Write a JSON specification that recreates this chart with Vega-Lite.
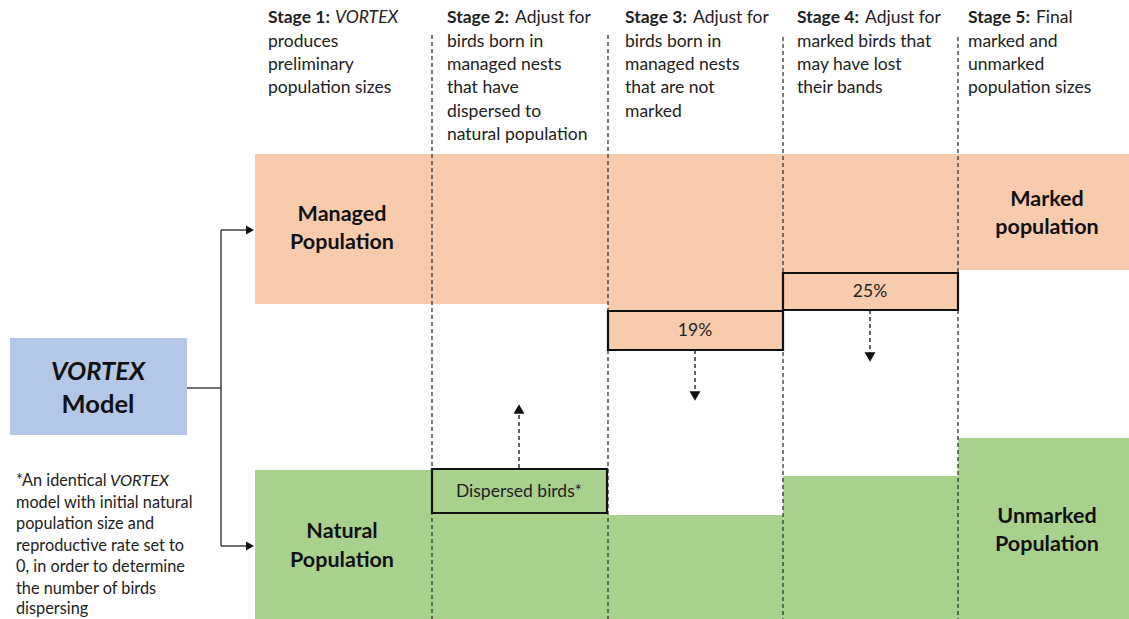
{
  "$schema": "https://vega.github.io/schema/vega-lite/v6.json",
  "width": 1129,
  "height": 619,
  "padding": 0,
  "autosize": "none",
  "background": "white",
  "config": {"view": {"stroke": null}, "text": {"font": "Lato", "color": "#222222"}},
  "datasets": {
    "bands": [
      {"x": 255, "x2": 608, "y": 154, "y2": 304, "pop": "managed"},
      {"x": 608, "x2": 783, "y": 154, "y2": 311, "pop": "managed"},
      {"x": 783, "x2": 958, "y": 154, "y2": 273, "pop": "managed"},
      {"x": 958, "x2": 1129, "y": 154, "y2": 270, "pop": "managed"},
      {"x": 255, "x2": 432, "y": 470, "y2": 619, "pop": "natural"},
      {"x": 432, "x2": 608, "y": 513, "y2": 619, "pop": "natural"},
      {"x": 608, "x2": 783, "y": 515, "y2": 619, "pop": "natural"},
      {"x": 783, "x2": 958, "y": 476, "y2": 619, "pop": "natural"},
      {"x": 958, "x2": 1129, "y": 438, "y2": 619, "pop": "natural"},
      {"x": 10, "x2": 187, "y": 338, "y2": 435, "pop": "vortex"}
    ],
    "boxes": [
      {"x": 432, "x2": 607, "y": 469, "y2": 513, "pop": "natural"},
      {"x": 608, "x2": 783, "y": 311, "y2": 350, "pop": "managed"},
      {"x": 783, "x2": 958, "y": 273, "y2": 310, "pop": "managed"}
    ],
    "stageLines": [
      {"x": 432, "y": 35, "y2": 619},
      {"x": 608, "y": 35, "y2": 619},
      {"x": 783, "y": 37, "y2": 619},
      {"x": 958, "y": 37, "y2": 619}
    ],
    "connectors": [
      {"x": 187, "x2": 221, "y": 388, "y2": 388},
      {"x": 221, "x2": 221, "y": 230, "y2": 546},
      {"x": 221, "x2": 248, "y": 230, "y2": 230},
      {"x": 221, "x2": 248, "y": 546, "y2": 546}
    ],
    "shafts": [
      {"x": 519, "y": 468, "y2": 414},
      {"x": 695, "y": 350, "y2": 392},
      {"x": 870, "y": 310, "y2": 353}
    ],
    "heads": [
      {"x": 519, "y": 409, "dir": "up", "kind": "flow"},
      {"x": 695, "y": 396, "dir": "down", "kind": "flow"},
      {"x": 870, "y": 357, "dir": "down", "kind": "flow"},
      {"x": 250, "y": 230, "dir": "right", "kind": "link"},
      {"x": 250, "y": 546, "dir": "right", "kind": "link"}
    ],
    "headBold": [
      {"x": 268, "y": 18, "t": "Stage 1:"},
      {"x": 447, "y": 18, "t": "Stage 2:"},
      {"x": 625, "y": 18, "t": "Stage 3:"},
      {"x": 797, "y": 18, "t": "Stage 4:"},
      {"x": 968, "y": 18, "t": "Stage 5:"}
    ],
    "headItalic": [
      {"x": 335, "y": 18, "t": "VORTEX"}
    ],
    "headReg": [
      {"x": 268, "y": 42, "t": "produces"},
      {"x": 268, "y": 65, "t": "preliminary"},
      {"x": 268, "y": 88, "t": "population sizes"},
      {"x": 515, "y": 18, "t": "Adjust for"},
      {"x": 447, "y": 42, "t": "birds born in"},
      {"x": 447, "y": 65, "t": "managed nests"},
      {"x": 447, "y": 88, "t": "that have"},
      {"x": 447, "y": 112, "t": "dispersed to"},
      {"x": 447, "y": 135, "t": "natural population"},
      {"x": 693, "y": 18, "t": "Adjust for"},
      {"x": 625, "y": 42, "t": "birds born in"},
      {"x": 625, "y": 65, "t": "managed nests"},
      {"x": 625, "y": 88, "t": "that are not"},
      {"x": 625, "y": 112, "t": "marked"},
      {"x": 865, "y": 18, "t": "Adjust for"},
      {"x": 797, "y": 42, "t": "marked birds that"},
      {"x": 797, "y": 65, "t": "may have lost"},
      {"x": 797, "y": 88, "t": "their bands"},
      {"x": 1036, "y": 18, "t": "Final"},
      {"x": 968, "y": 42, "t": "marked and"},
      {"x": 968, "y": 65, "t": "unmarked"},
      {"x": 968, "y": 88, "t": "population sizes"}
    ],
    "footReg": [
      {"x": 16, "y": 481, "t": "*An identical"},
      {"x": 16, "y": 503, "t": "model with initial natural"},
      {"x": 16, "y": 524, "t": "population size and"},
      {"x": 16, "y": 546, "t": "reproductive rate set to"},
      {"x": 16, "y": 567, "t": "0, in order to determine"},
      {"x": 16, "y": 589, "t": "the number of birds"},
      {"x": 16, "y": 609, "t": "dispersing"}
    ],
    "footItalic": [
      {"x": 110, "y": 481, "t": "VORTEX"}
    ],
    "popLabels": [
      {"x": 342, "y": 215, "t": "Managed"},
      {"x": 342, "y": 243, "t": "Population"},
      {"x": 342, "y": 532, "t": "Natural"},
      {"x": 342, "y": 561, "t": "Population"},
      {"x": 1047, "y": 200, "t": "Marked"},
      {"x": 1047, "y": 228, "t": "population"},
      {"x": 1047, "y": 517, "t": "Unmarked"},
      {"x": 1047, "y": 545, "t": "Population"}
    ],
    "boxLabels": [
      {"x": 519, "y": 492, "t": "Dispersed birds*"},
      {"x": 695, "y": 331, "t": "19%"},
      {"x": 870, "y": 292, "t": "25%"}
    ],
    "modelItalic": [{"x": 98, "y": 372, "t": "VORTEX"}],
    "modelBold": [{"x": 98, "y": 405, "t": "Model"}]
  },
  "encoding": {
    "x": {"field": "x", "type": "quantitative", "scale": {"domain": [0, 1129], "nice": false, "zero": false}, "axis": null},
    "y": {"field": "y", "type": "quantitative", "scale": {"domain": [0, 619], "nice": false, "zero": false, "reverse": true}, "axis": null}
  },
  "layer": [
    {
      "data": {"name": "bands"},
      "mark": {"type": "rect"},
      "encoding": {
        "x2": {"field": "x2"},
        "y2": {"field": "y2"},
        "color": {"field": "pop", "type": "nominal", "scale": {"domain": ["managed", "natural", "vortex"], "range": ["#f8cbad", "#a9d18e", "#b4c7e7"]}, "legend": null}
      }
    },
    {
      "data": {"name": "stageLines"},
      "mark": {"type": "rule", "color": "#333333", "strokeWidth": 1.3, "strokeDash": [4, 3]},
      "encoding": {"y2": {"field": "y2"}}
    },
    {
      "data": {"name": "boxes"},
      "mark": {"type": "rect", "stroke": "#111111", "strokeWidth": 2.2},
      "encoding": {
        "x2": {"field": "x2"},
        "y2": {"field": "y2"},
        "color": {"field": "pop", "type": "nominal", "scale": {"domain": ["managed", "natural", "vortex"], "range": ["#f8cbad", "#a9d18e", "#b4c7e7"]}, "legend": null}
      }
    },
    {
      "data": {"name": "connectors"},
      "mark": {"type": "rule", "color": "#404040", "strokeWidth": 1.5},
      "encoding": {"x2": {"field": "x2"}, "y2": {"field": "y2"}}
    },
    {
      "data": {"name": "shafts"},
      "mark": {"type": "rule", "color": "#222222", "strokeWidth": 1.4, "strokeDash": [4, 3]},
      "encoding": {"y2": {"field": "y2"}}
    },
    {
      "data": {"name": "heads"},
      "mark": {"type": "point", "filled": true, "color": "#111111", "opacity": 1},
      "encoding": {
        "shape": {"field": "dir", "type": "nominal", "scale": {"domain": ["up", "down", "right"], "range": ["triangle-up", "triangle-down", "triangle-right"]}, "legend": null},
        "size": {"field": "kind", "type": "nominal", "scale": {"domain": ["flow", "link"], "range": [120, 85]}, "legend": null}
      }
    },
    {
      "data": {"name": "headBold"},
      "mark": {"type": "text", "align": "left", "baseline": "middle", "fontSize": 17.5, "fontWeight": "bold"},
      "encoding": {"text": {"field": "t"}}
    },
    {
      "data": {"name": "headItalic"},
      "mark": {"type": "text", "align": "left", "baseline": "middle", "fontSize": 17.5, "fontStyle": "italic"},
      "encoding": {"text": {"field": "t"}}
    },
    {
      "data": {"name": "headReg"},
      "mark": {"type": "text", "align": "left", "baseline": "middle", "fontSize": 17.5},
      "encoding": {"text": {"field": "t"}}
    },
    {
      "data": {"name": "footReg"},
      "mark": {"type": "text", "align": "left", "baseline": "middle", "fontSize": 16.3},
      "encoding": {"text": {"field": "t"}}
    },
    {
      "data": {"name": "footItalic"},
      "mark": {"type": "text", "align": "left", "baseline": "middle", "fontSize": 16.3, "fontStyle": "italic"},
      "encoding": {"text": {"field": "t"}}
    },
    {
      "data": {"name": "popLabels"},
      "mark": {"type": "text", "align": "center", "baseline": "middle", "fontSize": 21.5, "fontWeight": "bold", "color": "#111111"},
      "encoding": {"text": {"field": "t"}}
    },
    {
      "data": {"name": "boxLabels"},
      "mark": {"type": "text", "align": "center", "baseline": "middle", "fontSize": 17.5},
      "encoding": {"text": {"field": "t"}}
    },
    {
      "data": {"name": "modelItalic"},
      "mark": {"type": "text", "align": "center", "baseline": "middle", "fontSize": 25.5, "fontWeight": "bold", "fontStyle": "italic", "color": "#111111"},
      "encoding": {"text": {"field": "t"}}
    },
    {
      "data": {"name": "modelBold"},
      "mark": {"type": "text", "align": "center", "baseline": "middle", "fontSize": 25.5, "fontWeight": "bold", "color": "#111111"},
      "encoding": {"text": {"field": "t"}}
    }
  ]
}
